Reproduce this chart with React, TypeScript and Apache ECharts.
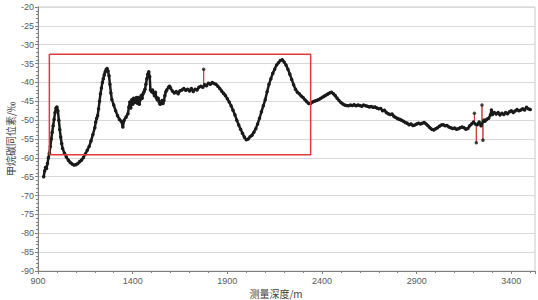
import React, { useEffect, useRef } from "react";
import * as echarts from "echarts";

// Measured depth (m) and methane carbon isotope value (‰)
const depths: number[] = [
  930, 935, 940, 945, 950, 955, 960, 965, 970, 975, 980, 985, 990, 995, 1000,
  1005, 1010, 1015, 1020, 1025, 1030, 1040, 1050, 1060, 1070, 1080, 1090, 1100,
  1110, 1120, 1130, 1140, 1150, 1160, 1170, 1180, 1190, 1200, 1205, 1210, 1215,
  1220, 1225, 1230, 1235, 1240, 1245, 1250, 1255, 1260, 1265, 1270, 1275, 1280,
  1285, 1290, 1300, 1310, 1320, 1330, 1340, 1348, 1355, 1365, 1375, 1380, 1385,
  1390, 1395, 1400, 1405, 1410, 1415, 1420, 1425, 1430, 1435, 1440, 1445, 1450,
  1455, 1460, 1465, 1470, 1475, 1480, 1485, 1490, 1494, 1500, 1505, 1510, 1515,
  1520, 1525, 1530, 1535, 1540, 1545, 1550, 1555, 1560, 1565, 1570, 1575, 1580,
  1590, 1595, 1600, 1610, 1620, 1630, 1640, 1650, 1660, 1670, 1680, 1690, 1700,
  1710, 1720, 1730, 1740, 1750, 1760, 1770, 1780, 1790, 1800, 1810, 1820,
  1830, 1840, 1850, 1860, 1870, 1880, 1890, 1900, 1910, 1920, 1930, 1940, 1950,
  1960, 1970, 1980, 1990, 2000, 2010, 2020, 2030, 2040, 2050, 2060, 2070, 2080,
  2090, 2100, 2110, 2120, 2130, 2140, 2150, 2160, 2170, 2180, 2190, 2200, 2210,
  2220, 2230, 2240, 2250, 2260, 2270, 2280, 2290, 2300, 2310, 2320, 2330, 2340,
  2350, 2360, 2370, 2380, 2390, 2400, 2410, 2420, 2430, 2440, 2450, 2460, 2470,
  2480, 2490, 2500, 2510, 2520, 2530, 2540, 2550, 2560, 2570, 2580, 2590, 2600,
  2610, 2620, 2630, 2640, 2650, 2660, 2670, 2680, 2690, 2700, 2710, 2720, 2730,
  2740, 2750, 2760, 2770, 2780, 2790, 2800, 2810, 2820, 2830, 2840, 2850, 2860,
  2870, 2880, 2890, 2900, 2910, 2920, 2930, 2940, 2950, 2960, 2970, 2980, 2990,
  3000, 3010, 3020, 3030, 3040, 3050, 3060, 3070, 3080, 3090, 3100, 3110, 3120,
  3130, 3140, 3150, 3160, 3170, 3180, 3190, 3200, 3210, 3220, 3230,
  3240, 3255, 3260, 3270, 3280, 3290, 3295, 3300, 3310, 3320, 3330,
  3340, 3350, 3360, 3370, 3380, 3390, 3400, 3410, 3420, 3430, 3440, 3450, 3460,
  3470, 3480, 3490, 3500,
];

const isotope: number[] = [
  -65.0, -63.5, -62.5, -62.8, -61.5, -60.0, -58.8, -57.0, -55.0, -53.2, -51.5, -49.8, -48.0, -46.8, -46.5,
  -47.5, -50.0, -52.5, -54.5, -56.2, -57.5, -58.8, -59.8, -60.6, -61.2, -61.6, -61.9, -61.8,
  -61.5, -61.0, -60.6, -59.9, -59.0, -58.0, -57.0, -55.5, -53.8, -52.0, -50.5, -49.5, -48.8,
  -47.0, -45.0, -43.0, -41.5, -40.0, -39.0, -38.0, -37.2, -36.6, -36.3, -37.0, -38.2, -40.5,
  -42.8, -44.5, -46.0, -47.5, -48.8, -49.8, -50.3, -51.8, -50.0, -49.2, -48.3, -46.5, -45.2,
  -46.8, -44.6, -45.8, -44.2, -45.3, -44.5, -44.0, -45.5, -44.0, -45.8, -44.5, -43.5, -44.2,
  -43.0, -42.5, -41.8, -40.5, -39.0, -37.8, -37.2, -38.5, -42.0, -42.5, -42.0, -42.8, -43.5,
  -42.6, -44.0, -44.6, -44.2, -45.2, -45.8, -45.3, -44.8, -45.6, -44.8, -43.5, -42.5, -42.0,
  -41.2, -41.0, -41.5, -42.3, -42.8, -42.4, -43.0, -42.2, -42.0, -41.6, -42.1, -41.8, -42.3,
  -41.6, -42.4, -41.8, -42.0, -41.3, -41.0, -41.3, -40.6, -40.9, -40.2, -40.5, -40.0,
  -40.3, -40.5, -41.0, -41.6, -42.3, -42.9, -43.5, -44.3, -45.2, -46.2, -47.4, -48.6, -50.0,
  -51.3, -52.4, -53.5, -54.5, -55.2, -55.0, -54.4, -54.0, -53.2, -52.3, -51.0, -49.5, -47.8,
  -46.2, -44.6, -42.5, -40.5, -39.0, -37.6, -36.5, -35.4, -34.8, -34.2, -34.0, -34.6, -35.4,
  -36.5, -37.8, -39.2, -40.6, -41.8, -42.6, -43.0, -43.6, -44.0, -44.6, -45.1, -45.6, -45.6,
  -45.2, -45.0, -44.8, -44.6, -44.3, -44.0, -43.7, -43.4, -43.1, -42.8, -42.6, -43.0, -43.5,
  -44.2, -44.8, -45.3, -45.7, -46.0, -46.1, -46.2, -46.0, -46.1, -45.9, -46.2, -46.0, -46.1,
  -46.3, -46.0, -46.2, -46.3, -46.5, -46.4, -46.6, -46.5, -46.8, -47.0, -46.9, -47.5, -47.4,
  -48.0, -48.3, -48.5, -48.4, -49.0, -49.3, -49.6, -49.8, -50.0, -50.3, -50.6, -50.8, -51.2,
  -51.0, -51.4, -51.3, -51.0, -50.8, -51.0, -50.8, -50.6, -51.0, -51.5, -52.0, -52.4, -52.6,
  -52.3, -52.0, -51.6, -51.3, -51.2, -51.5, -51.4, -51.8, -52.0, -52.2, -52.1, -52.4, -52.3,
  -52.0, -51.8, -52.0, -52.4, -52.2, -51.5, -51.0, -50.5, -51.0, -51.2, -50.5,
  -51.5, -50.0, -50.3, -49.8, -49.5, -48.6, -47.3, -48.5, -48.0, -48.4, -48.0,
  -48.6, -48.2, -48.5, -48.0, -48.3, -47.8, -47.5, -48.0, -47.6, -47.2, -47.5, -47.3, -47.0,
  -47.3, -46.6, -47.0, -47.2,
];

// Isolated outlier readings (drawn as red spikes off the curve)
const spikeDepths: number[] = [1775, 3205, 3215, 3245, 3250];
const spikeBase: number[] = [-41.2, -50.6, -50.8, -51.0, -50.8];
const spikeValues: number[] = [-36.5, -48.2, -56.0, -46.0, -55.3];

// Highlight box (depth range and value range)
const boxDepths: number[] = [960, 2340];
const boxValues: number[] = [-32.5, -59.2];

const yTicks: number[] = [-20, -90, 5];
const xTicks: number[] = [900, 3525, 500];

const xAxisTitle = "测量深度/m";
const yAxisTitle = "甲烷碳同位素/‰";

export default function App() {
  const ref = useRef<HTMLDivElement>(null);
  useEffect(() => {
    if (!ref.current) return;
    const chart = echarts.init(ref.current, undefined, { renderer: "svg" });
    const seriesData = depths.map((d, i) => [d, isotope[i]]);
    const spikeLines: any[] = [];
    const spikeDots: any[] = [];
    spikeDepths.forEach((d, i) => {
      spikeLines.push([d, spikeBase[i]], [d, spikeValues[i]], [d, spikeBase[i]], null);
      spikeDots.push([d, spikeValues[i]]);
    });
    const boxData = [
      [boxDepths[0], boxValues[0]],
      [boxDepths[1], boxValues[0]],
      [boxDepths[1], boxValues[1]],
      [boxDepths[0], boxValues[1]],
      [boxDepths[0], boxValues[0]],
    ];
    const labelStyle = { color: "#595959", fontSize: 9, fontFamily: "Liberation Sans, Arial, sans-serif" };
    const titleFont = { fill: "#404040", fontSize: 10, fontFamily: "Noto Sans CJK SC, sans-serif" };
    chart.setOption({
      animation: false,
      backgroundColor: "#ffffff",
      grid: {
        left: 38,
        right: 3,
        top: 7,
        bottom: 29,
        containLabel: false,
        outerBoundsMode: "none",
        show: true,
        borderColor: "#c8c8c8",
        borderWidth: 1,
        backgroundColor: "transparent",
      },
      graphic: [
        {
          type: "text",
          x: 276,
          y: 293,
          style: { ...titleFont, text: xAxisTitle, align: "center", verticalAlign: "middle" },
        },
        {
          type: "text",
          x: 10,
          y: 139,
          rotation: Math.PI / 2,
          style: { ...titleFont, text: yAxisTitle, align: "center", verticalAlign: "middle" },
        },
      ],
      xAxis: {
        type: "value",
        min: xTicks[0],
        max: xTicks[1],
        interval: xTicks[2],
        axisLine: { show: true, lineStyle: { color: "#7f7f7f", width: 1 } },
        axisTick: { show: true, length: 3, lineStyle: { color: "#7f7f7f" } },
        minorTick: { show: true, splitNumber: 5, length: 2, lineStyle: { color: "#7f7f7f" } },
        axisLabel: { ...labelStyle, margin: 5, showMaxLabel: false, formatter: (v: number) => String(v) },
        splitLine: { show: false },
      },
      yAxis: {
        type: "value",
        min: yTicks[1],
        max: yTicks[0],
        interval: yTicks[2],
        axisLine: { show: true, lineStyle: { color: "#7f7f7f", width: 1 } },
        axisTick: { show: true, length: 3, lineStyle: { color: "#7f7f7f" } },
        minorTick: { show: true, splitNumber: 5, length: 2, lineStyle: { color: "#7f7f7f" } },
        axisLabel: { ...labelStyle, margin: 4, formatter: (v: number) => String(v) },
        splitLine: { show: true, lineStyle: { color: "#d9d9d9", width: 1 } },
      },
      series: [
        {
          type: "line",
          data: spikeLines,
          symbol: "none",
          connectNulls: false,
          lineStyle: { color: "#d23a3a", width: 1 },
          z: 2,
        },
        {
          type: "scatter",
          data: spikeDots,
          symbol: "circle",
          symbolSize: 3.5,
          itemStyle: { color: "#1a1a1a" },
          z: 3,
        },
        {
          type: "line",
          data: seriesData,
          symbol: "circle",
          symbolSize: 3.5,
          showSymbol: true,
          itemStyle: { color: "#1a1a1a" },
          lineStyle: { color: "#1a1a1a", width: 2.5 },
          z: 3,
        },
        {
          type: "line",
          data: boxData,
          symbol: "none",
          lineStyle: { color: "#e03a3a", width: 1.5 },
          z: 4,
        },
      ],
    });
    return () => chart.dispose();
  }, []);
  return (
    <div
      ref={ref}
      style={{ position: "fixed", left: 0, top: 0, width: 538, height: 300 }}
    />
  );
}
